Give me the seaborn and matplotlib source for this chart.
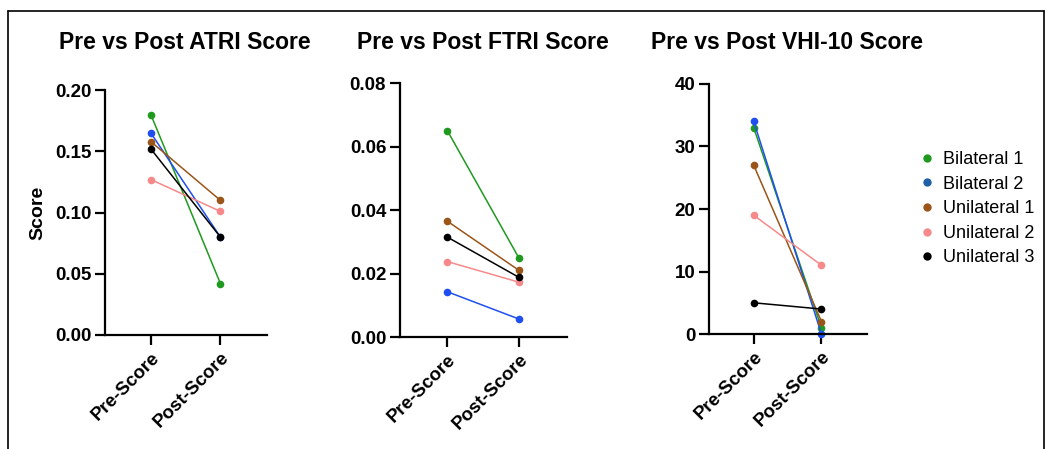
import numpy as np
import pandas as pd
import seaborn as sns
import matplotlib.pyplot as plt
from matplotlib.lines import Line2D
from matplotlib.ticker import FormatStrFormatter

sns.set_style("ticks")
plt.rcParams['font.family'] = ['Liberation Sans', 'DejaVu Sans']
plt.rcParams['text.color'] = 'black'
plt.rcParams['xtick.color'] = 'black'
plt.rcParams['ytick.color'] = 'black'
plt.rcParams['axes.labelcolor'] = 'black'
plt.rcParams['axes.edgecolor'] = 'black'

# data
subjects = ["Bilateral 1", "Bilateral 2", "Unilateral 1", "Unilateral 2", "Unilateral 3"]
timepoints = ["Pre-Score", "Post-Score"]

atri_pre = [0.180, 0.165, 0.158, 0.127, 0.152]
atri_post = [0.042, 0.080, 0.110, 0.101, 0.080]

ftri_pre = [0.0650, 0.0143, 0.0365, 0.0238, 0.0315]
ftri_post = [0.0248, 0.0057, 0.0210, 0.0173, 0.0188]

vhi_pre = [33, 34, 27, 19, 5]
vhi_post = [1, 0, 2, 11, 4]

colors = ["#1f9a1f", "#1f4ff0", "#9a5518", "#f7898a", "#000000"]
legend_colors = ["#1f9a1f", "#1f5fa8", "#9a5518", "#f7898a", "#000000"]


def long_df(pre, post):
    rows = []
    for s, a, b in zip(subjects, pre, post):
        rows.append([s, 0, a])
        rows.append([s, 1, b])
    return pd.DataFrame(rows, columns=["subject", "time", "score"])


panels = [
    ("Pre vs Post ATRI Score", atri_pre, atri_post, 0.20, 0.05, "%.2f",
     [0.1005, 0.254, 0.155, 0.545], 0.177),
    ("Pre vs Post FTRI Score", ftri_pre, ftri_post, 0.08, 0.02, "%.2f",
     [0.3828, 0.249, 0.160, 0.566], 0.462),
    ("Pre vs Post VHI-10 Score", vhi_pre, vhi_post, 40, 10, "%d",
     [0.6785, 0.256, 0.151, 0.557], 0.753),
]

fig = plt.figure(figsize=(10.45, 4.49), dpi=100)

for i, (title, pre, post, ymax, step, fmt, rect, tx) in enumerate(panels):
    ax = fig.add_axes(rect)
    df = long_df(pre, post)
    sns.lineplot(data=df, x="time", y="score", hue="subject", hue_order=subjects,
                 palette=colors, marker="o", markersize=5.5, markeredgewidth=0,
                 linewidth=1.1, legend=False, ax=ax, clip_on=False)
    ax.set_xlim(-0.66, 1.67)
    ax.set_ylim(0, ymax)
    ax.set_yticks(np.arange(0, ymax + step / 2, step))
    ax.yaxis.set_major_formatter(FormatStrFormatter(fmt))
    ax.set_xticks([0, 1])
    ax.set_xticklabels(timepoints, rotation=45, ha="right", rotation_mode="anchor",
                       fontsize=13.5, fontweight="bold")
    for lab in ax.get_yticklabels():
        lab.set_fontsize(13.5)
        lab.set_fontweight("bold")
    ax.set_xlabel("")
    ax.set_ylabel("Score" if i == 0 else "", fontsize=14, fontweight="bold", labelpad=6)
    fig.text(tx, 0.906, title, fontsize=16.5, fontweight="bold", ha="center", va="center")
    sns.despine(ax=ax)
    for sp in ["left", "bottom"]:
        ax.spines[sp].set_linewidth(1.6)
    ax.tick_params(width=1.6, length=7, pad=3)

handles = [Line2D([], [], linestyle="none", marker="o", markersize=6,
                  markerfacecolor=c, markeredgewidth=0) for c in legend_colors]
fig.legend(handles, subjects, loc="center left", bbox_to_anchor=(0.861, 0.535),
           frameon=False, fontsize=13, handletextpad=0.3, labelspacing=0.42,
           handlelength=1.2)

# thin frame round the picture (top, left, right)
fig.add_artist(Line2D([0.0077, 0.0077], [0, 0.976], color="black", lw=1.2, transform=fig.transFigure))
fig.add_artist(Line2D([0.0077, 0.999], [0.976, 0.976], color="black", lw=1.2, transform=fig.transFigure))
fig.add_artist(Line2D([0.999, 0.999], [0, 0.976], color="black", lw=1.2, transform=fig.transFigure))

plt.savefig("out.png", dpi=100)
